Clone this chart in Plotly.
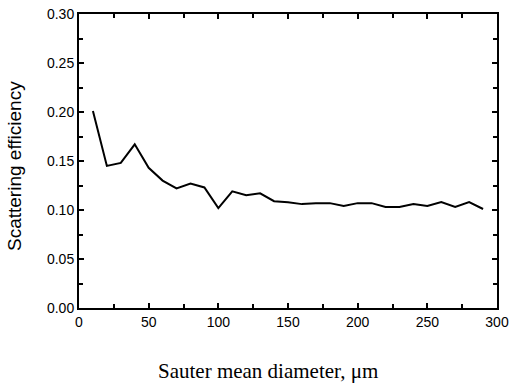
import plotly.graph_objects as go

diameter = [10, 20, 30, 40, 50, 60, 70, 80, 90, 100, 110, 120, 130, 140, 150,
            160, 170, 180, 190, 200, 210, 220, 230, 240, 250, 260, 270, 280, 290]
efficiency = [0.201, 0.145, 0.148, 0.167, 0.143, 0.130, 0.122, 0.127, 0.123, 0.102,
              0.119, 0.115, 0.117, 0.109, 0.108, 0.106, 0.107, 0.107, 0.104, 0.107,
              0.107, 0.103, 0.103, 0.106, 0.104, 0.108, 0.103, 0.108, 0.101]
x_ticks = [0, 50, 100, 150, 200, 250, 300]
y_ticks = [0.00, 0.05, 0.10, 0.15, 0.20, 0.25, 0.30]

fig = go.Figure()
fig.add_trace(go.Scatter(x=diameter, y=efficiency, mode="lines",
                         line=dict(color="black", width=2), showlegend=False))

axis_common = dict(showgrid=False, zeroline=False, showline=True, linecolor="black",
                   linewidth=2, mirror="allticks", ticks="inside", ticklen=5,
                   tickwidth=1.5, tickcolor="black", automargin=False,
                   tickfont=dict(family="Liberation Sans, Arial", size=14, color="black"))

fig.update_xaxes(range=[0, 300], tickvals=x_ticks, ticktext=[str(v) for v in x_ticks],
                 minor=dict(dtick=25, ticks="inside", ticklen=4, tickcolor="black"),
                 **axis_common)
fig.update_yaxes(range=[0, 0.30], tickvals=y_ticks, ticktext=[f"{v:.2f}" for v in y_ticks],
                 minor=dict(dtick=0.025, ticks="inside", ticklen=4, tickcolor="black"),
                 **axis_common)

fig.add_annotation(text="Sauter mean diameter, \u03bcm", xref="paper", yref="paper",
                   x=(268 - 79) / 418, y=-(371 - 308) / 294, showarrow=False,
                   xanchor="center", yanchor="middle",
                   font=dict(family="Liberation Serif, Times New Roman", size=21, color="black"))
fig.add_annotation(text="Scattering efficiency", xref="paper", yref="paper",
                   x=-(79 - 14) / 418, y=(308 - 166) / 294, showarrow=False, textangle=-90,
                   xanchor="center", yanchor="middle",
                   font=dict(family="Liberation Sans, Arial", size=19, color="black"))

fig.update_layout(width=511, height=385, margin=dict(l=79, r=14, t=14, b=77),
                  plot_bgcolor="white", paper_bgcolor="white")
fig.write_html("out.html")
